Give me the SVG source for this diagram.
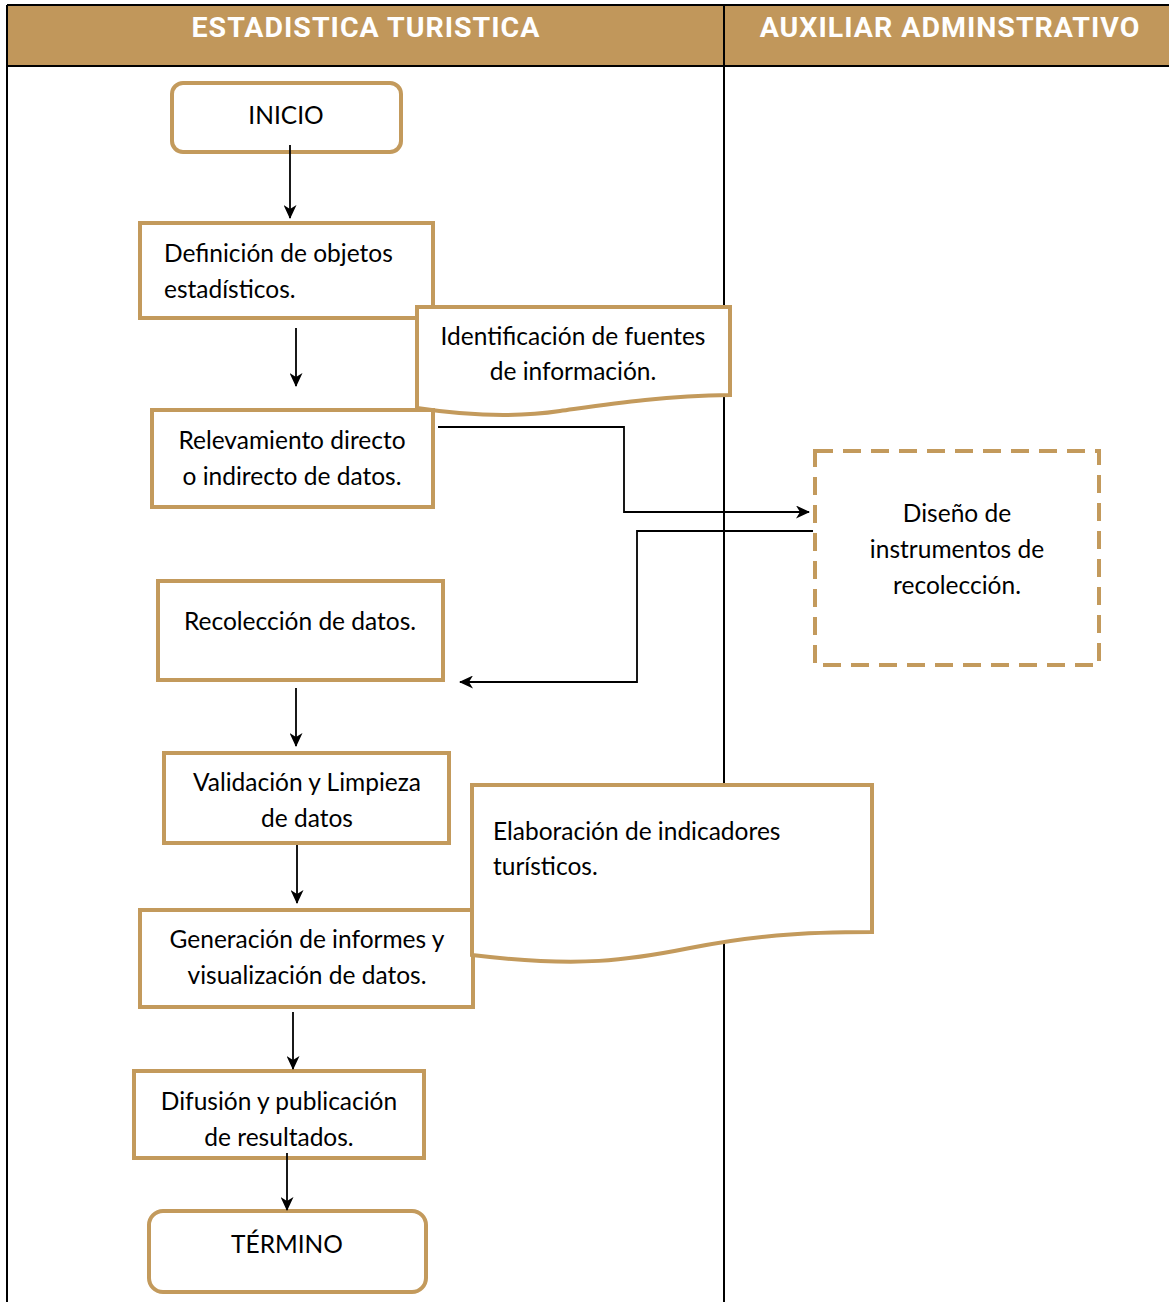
<svg xmlns="http://www.w3.org/2000/svg" width="1169" height="1302" viewBox="0 0 1169 1302">
<defs>
<style>
.hdr{font-family:Roboto,"Liberation Sans",sans-serif;font-weight:700;font-size:28.5px;letter-spacing:1px;fill:#fff;text-anchor:middle}
.box{fill:#fff;stroke:#C39A5C;stroke-width:4}
.dash{fill:#fff;stroke:#C39A5C;stroke-width:4;stroke-dasharray:18 10}
.t{font-family:Lato,"Liberation Sans",sans-serif;font-size:24.5px;fill:#000}
.c{text-anchor:middle}
.con{fill:none;stroke:#000;stroke-width:1.8}
.grid{stroke:#000;stroke-width:2;fill:none}
</style>
<marker id="ah" viewBox="0 0 14 13" refX="13" refY="6.5" markerWidth="14" markerHeight="13" markerUnits="userSpaceOnUse" orient="auto">
<path d="M0,0 L14,6.5 L0,13 L4,6.5 Z" fill="#000"/>
</marker>
</defs>
<rect x="0" y="0" width="1169" height="1302" fill="#fff"/>
<g id="lanes">
<rect x="7" y="5" width="1162" height="61" fill="#C1975B"/>
<line class="grid" x1="7" y1="5" x2="1169" y2="5"/>
<line class="grid" x1="7" y1="66" x2="1169" y2="66"/>
<line class="grid" x1="7" y1="5" x2="7" y2="1302"/>
<line class="grid" x1="724" y1="5" x2="724" y2="1302"/>
<text class="hdr" x="366" y="37">ESTADISTICA TURISTICA</text>
<text class="hdr" x="950" y="37">AUXILIAR ADMINSTRATIVO</text>
</g>
<g id="n-inicio">
<rect class="box" x="172" y="83" width="229" height="69" rx="11"/>
<text class="t c" x="286" y="124">INICIO</text>
</g>
<g id="n-definicion">
<rect class="box" x="140" y="223" width="293" height="95"/>
<text class="t" x="164" y="262">Definición de objetos</text>
<text class="t" x="164" y="298">estadísticos.</text>
</g>
<g id="n-identificacion">
<path class="box" d="M417,307 H730 V395 C660,396 610,404 560,411 C520,417 470,416 417,408 Z"/>
<text class="t c" x="573" y="345">Identificación de fuentes</text>
<text class="t c" x="573" y="380">de información.</text>
</g>
<g id="n-relevamiento">
<rect class="box" x="152" y="410" width="281" height="97"/>
<text class="t c" x="292" y="449">Relevamiento directo</text>
<text class="t c" x="292" y="485">o indirecto de datos.</text>
</g>
<g id="n-diseno">
<rect class="dash" x="815" y="451" width="284" height="214"/>
<text class="t c" x="957" y="522">Diseño de</text>
<text class="t c" x="957" y="558">instrumentos de</text>
<text class="t c" x="957" y="594">recolección.</text>
</g>
<g id="n-recoleccion">
<rect class="box" x="158" y="581" width="285" height="99"/>
<text class="t c" x="300" y="630">Recolección de datos.</text>
</g>
<g id="n-validacion">
<rect class="box" x="164" y="753" width="285" height="90"/>
<text class="t c" x="307" y="791">Validación y Limpieza</text>
<text class="t c" x="307" y="827">de datos</text>
</g>
<g id="n-generacion">
<rect class="box" x="140" y="910" width="333" height="97"/>
<text class="t c" x="307" y="948">Generación de informes y</text>
<text class="t c" x="307" y="984">visualización de datos.</text>
</g>
<g id="n-elaboracion">
<path class="box" d="M472,785 H872 V932 C800,932 750,936 690,948 C630,960 580,968 472,955 Z"/>
<text class="t" x="493" y="840">Elaboración de indicadores</text>
<text class="t" x="493" y="875">turísticos.</text>
</g>
<g id="n-difusion">
<rect class="box" x="134" y="1071" width="290" height="87"/>
<text class="t c" x="279" y="1110">Difusión y publicación</text>
<text class="t c" x="279" y="1146">de resultados.</text>
</g>
<g id="n-termino">
<rect class="box" x="149" y="1211" width="277" height="81" rx="14"/>
<text class="t c" x="287" y="1253">TÉRMINO</text>
</g>
<g id="connectors">
<path class="con" marker-end="url(#ah)" d="M290,145 V218"/>
<path class="con" marker-end="url(#ah)" d="M296,328 V386"/>
<path class="con" marker-end="url(#ah)" d="M438,427 H624 V512 H809"/>
<path class="con" marker-end="url(#ah)" d="M813,531 H637 V682 H460"/>
<path class="con" marker-end="url(#ah)" d="M296,688 V746"/>
<path class="con" marker-end="url(#ah)" d="M297,845 V903"/>
<path class="con" marker-end="url(#ah)" d="M293,1012 V1069"/>
<path class="con" marker-end="url(#ah)" d="M287,1153 V1210"/>
</g>
</svg>
